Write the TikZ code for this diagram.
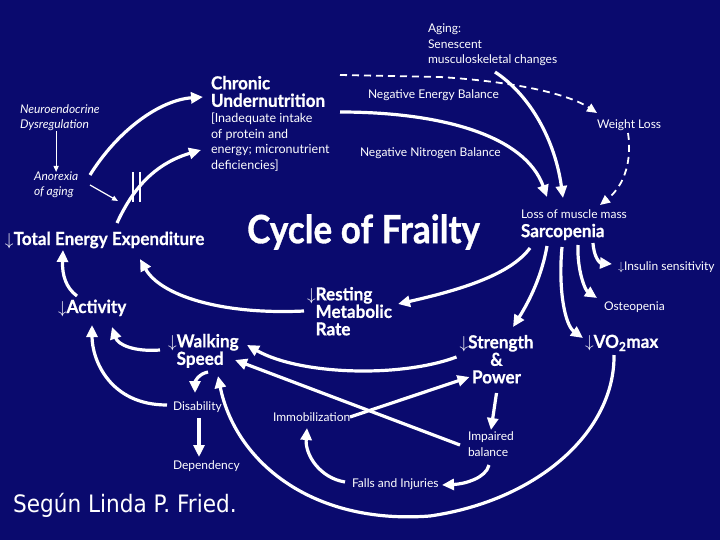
\documentclass[tikz,border=0pt]{standalone}
\usepackage{fontspec}
\setmainfont{Lato}
\newfontfamily\hdfont{Lato}[FakeStretch=0.95,FakeBold=0.6]
\newfontfamily\titfont{Lato}[FakeStretch=0.9,FakeBold=0.8]
\newfontfamily\credfont{DejaVu Sans}[FakeStretch=0.9]
\usetikzlibrary{arrows.meta}
\definecolor{bg}{RGB}{10,10,110}
\begin{document}
\begin{tikzpicture}[x=1pt,y=-1pt,
  lbl/.style={text=white,inner sep=0,outer sep=0,align=left,font=\fontsize{12}{15.5}\selectfont},
  ital/.style={lbl,font=\itshape\fontsize{12}{15}\selectfont},
  bld/.style={text=white,inner sep=0,outer sep=0,align=left,font=\hdfont\bfseries\fontsize{18}{17.5}\selectfont},
  arr/.style={draw=white,line width=3.2pt,-{Triangle[length=12pt,width=11pt]}},
  thinarr/.style={draw=white,line width=1.2pt,-{Triangle[length=6pt,width=5pt]}},
  dsh/.style={draw=white,line width=1.8pt,dash pattern=on 7pt off 5pt,-{Triangle[length=10pt,width=9pt]}}]
\fill[bg] (0,0) rectangle (720,540);
\useasboundingbox (0,0) rectangle (720,540);

% nodes
\node[lbl,anchor=north west] (aging) at (428,24) {Aging:\\Senescent\\musculoskeletal changes};
\node[lbl,anchor=west] (neb) at (368,95) {Negative Energy Balance};
\node[lbl,anchor=west] (nnb) at (360,153) {Negative Nitrogen Balance};
\node[lbl,anchor=west] (wl) at (597,125) {Weight Loss};
\node[bld,anchor=north west] (chronic) at (211,76) {Chronic\\Undernutrition};
\node[lbl,anchor=north west,font=\fontsize{12.5}{15.7}\selectfont] (inadequate) at (211,113) {[Inadequate intake\\of protein and\\energy; micronutrient\\deficiencies]};
\node[ital,anchor=north west] (neuro) at (20,105) {Neuroendocrine\\Dysregulation};
\node[ital,anchor=north west] (anorexia) at (34,172) {Anorexia\\of aging};
\node[bld,anchor=west] (tee) at (5,240) {$\downarrow$Total Energy Expenditure};
\node[text=white,inner sep=0,anchor=west,font=\titfont\bfseries\fontsize{39}{39}\selectfont] (title) at (247,232) {Cycle of Frailty};
\node[lbl,anchor=west] (loss) at (521,214) {Loss of muscle mass};
\node[bld,anchor=west] (sarc) at (521,232) {Sarcopenia};
\node[lbl,anchor=west] (insulin) at (618,267) {$\downarrow$Insulin sensitivity};
\node[lbl,anchor=west] (osteo) at (604,307) {Osteopenia};
\node[bld,anchor=west] (activity) at (58,308) {$\downarrow$Activity};
\node[bld,anchor=north west] (resting) at (307,287) {$\downarrow$Resting\\\hphantom{$\downarrow$}Metabolic\\\hphantom{$\downarrow$}Rate};
\node[bld,anchor=north west] (walking) at (168,334) {$\downarrow$Walking\\\hphantom{$\downarrow$}Speed};
\node[bld,anchor=north,align=center] (strength) at (496.5,335) {$\downarrow$Strength\\\&\\Power};
\node[bld,anchor=west] (vo2) at (585,343) {$\downarrow$VO\textsubscript{2}max};
\node[lbl,anchor=west] (disability) at (173,407) {Disability};
\node[lbl,anchor=west] (dependency) at (173,466) {Dependency};
\node[lbl,anchor=west] (immob) at (273,417) {Immobilization};
\node[lbl,anchor=north west] (impaired) at (468,432) {Impaired\\balance};
\node[lbl,anchor=west] (falls) at (352,484) {Falls and Injuries};
\node[text=white,inner sep=0,anchor=west,font=\credfont\fontsize{24}{24}\selectfont] (credit) at (13,505) {Según Linda P. Fried.};

% break marks
\draw[white,line width=1.3pt] (133,172) -- (133,202);
\draw[white,line width=1.3pt] (140,172) -- (140,202);
\coordinate (brk) at (118,201);

% connectors
\draw[arr] ([shift={(56,3)}]anorexia.north west) .. controls (118,130) and (160,100) .. ([shift={(-8,21)}]chronic.north west);
\draw[arr] ([shift={(112,-17)}]tee.west) .. controls (130,195) and (150,165) .. ([shift={(-10,37)}]inadequate.north west);
\draw[thinarr] (neuro.south -| anorexia.north) -- (anorexia.north);
\draw[thinarr] ([shift={(56,13)}]anorexia.north west) -- (brk);
\draw[dsh] ([shift={(129,-1)}]chronic.north west) -- (440,77) .. controls (520,82) and (570,95) .. ([shift={(0,-12)}]wl.west);
\draw[dsh] ([shift={(31,8)}]wl.west) .. controls (632,160) and (625,185) .. ([shift={(79,-9)}]loss.west);
\draw[arr] ([shift={(129,36)}]chronic.north west) .. controls (440,112) and (525,135) .. ([shift={(26,-17)}]loss.west);
\draw[arr] ([shift={(67,48)}]aging.north west) .. controls (530,95) and (555,140) .. ([shift={(42,-16)}]loss.west);
\draw[arr] ([shift={(9,16)}]sarc.west) .. controls (510,275) and (460,290) .. ([shift={(91,17)}]resting.north west);
\draw[arr] ([shift={(26,14)}]sarc.west) .. controls (542,275) and (530,300) .. ([shift={(16.5,-8)}]strength.north);
\draw[arr] ([shift={(41,15)}]sarc.west) .. controls (558,290) and (565,325) .. ([shift={(-2,-5)}]vo2.west);
\draw[arr] ([shift={(57,13)}]sarc.west) .. controls (577,270) and (585,290) .. ([shift={(-7,-9)}]osteo.west);
\draw[arr] ([shift={(72,11)}]sarc.west) .. controls (594,258) and (600,263) .. ([shift={(-6,-3)}]insulin.west);
\draw[arr] ([shift={(-3,24)}]resting.north west) .. controls (220,315) and (160,295) .. ([shift={(135,19)}]tee.west);
\draw[arr] ([shift={(19,-12)}]activity.west) .. controls (66,288) and (62,275) .. ([shift={(58,10)}]tee.west);
\draw[arr] ([shift={(-8,16)}]walking.north west) .. controls (135,352) and (118,345) .. ([shift={(54,19)}]activity.west);
\draw[arr] ([shift={(-6,-2)}]disability.west) .. controls (110,405) and (92,360) .. ([shift={(34,17)}]activity.west);
\draw[arr] ([shift={(40,38)}]walking.north west) .. controls (198,374) and (195,382) .. ([shift={(22,-14)}]disability.west);
\draw[arr] ([shift={(26,11)}]disability.west) -- ([shift={(26,-9)}]dependency.west);
\draw[arr] ([shift={(-40,22)}]strength.north) .. controls (400,378) and (300,375) .. ([shift={(79,11)}]walking.north west);
\draw[arr] ([shift={(-8,13)}]impaired.north west) -- ([shift={(67,26)}]walking.north west);
\draw[arr] ([shift={(77,0)}]immob.west) -- ([shift={(-27,42)}]strength.north);
\draw[arr] ([shift={(0,58)}]strength.north) -- ([shift={(23,-2)}]impaired.north west);
\draw[arr] ([shift={(21,33)}]impaired.north west) .. controls (486,478) and (465,484) .. ([shift={(90,1)}]falls.west);
\draw[arr] ([shift={(-7,-2)}]falls.west) .. controls (320,478) and (305,455) .. ([shift={(34,11)}]immob.west);
\draw[arr] ([shift={(29,12)}]vo2.west) .. controls (615,430) and (540,500) .. (430,516) .. controls (310,525) and (235,460) .. ([shift={(50,42)}]walking.north west);
\end{tikzpicture}
\end{document}
